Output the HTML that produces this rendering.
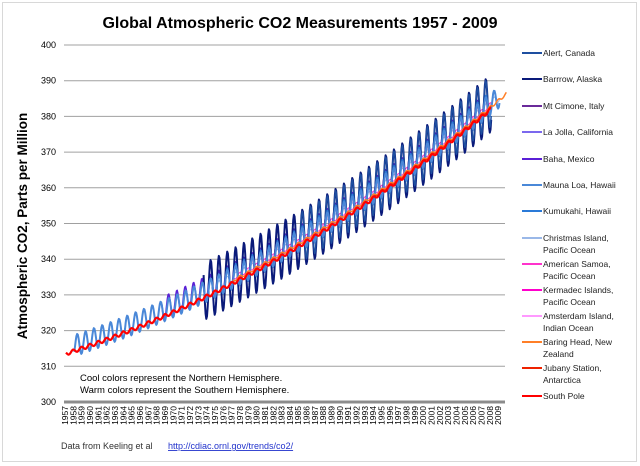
<!DOCTYPE html>
<html><head><meta charset="utf-8"><style>
body{margin:0;background:#fff;font-family:"Liberation Sans",sans-serif}
#c{position:absolute;left:2px;top:2px;width:633px;height:458px;border:1px solid #d8d8d8}
</style></head><body>
<div id="c"></div>
<svg id="s" width="640" height="466" style="position:absolute;left:0;top:0" font-family="Liberation Sans, sans-serif">
<text x="300" y="28" font-size="16" font-weight="bold" text-anchor="middle">Global Atmospheric CO2 Measurements  1957 - 2009</text>
<text transform="translate(27,226) rotate(-90)" font-size="13.5" font-weight="bold" text-anchor="middle">Atmospheric CO2, Parts per Million</text>
<g id="grid"></g><g id="ser"></g><g id="leg"></g>
<text x="80" y="381" font-size="9.5">Cool colors represent  the Northern Hemisphere.</text>
<text x="80" y="393" font-size="9.5">Warm colors represent the Southern Hemisphere.</text>
<text x="61" y="449" font-size="9" fill="#333">Data from Keeling et al</text>
<text x="168" y="449" font-size="9" fill="#2233cc" text-decoration="underline">http://cdiac.ornl.gov/trends/co2/</text>
</svg>
<script>
const NS="http://www.w3.org/2000/svg";
function el(p,t,a,txt){const e=document.createElementNS(NS,t);for(const k in a)e.setAttribute(k,a[k]);if(txt)e.textContent=txt;p.appendChild(e);return e;}
const g=document.getElementById('grid'),S=document.getElementById('ser'),L=document.getElementById('leg');
const X0=64,X1=505,Y400=45,Y300=402;
const xs=t=>X0+(t-1957)/(2009.9-1957)*(X1-X0)+2, ys=v=>Y300-(v-300)*(Y300-Y400)/100;
for(let v=300;v<=400;v+=10){const y=ys(v);el(g,'line',{x1:X0,x2:X1,y1:y,y2:y,stroke:'#a0a0a0','stroke-width':1});el(g,'text',{x:X0-8,y:y+3,'font-size':9,'text-anchor':'end'},String(v));}
el(g,'line',{x1:X0,x2:X1,y1:Y300,y2:Y300,stroke:'#8c8c8c','stroke-width':3});
for(let yr=1957;yr<=2009;yr++){const x=X0+(yr-1957)*8.33+4;el(g,'text',{transform:`translate(${x},406) rotate(-90)`,'font-size':8.5,'text-anchor':'end'},String(yr));}
const tr=t=>{const d=t-1958;return 315.5+0.78*d+0.0115*d*d;};
function ser(col,w,a,b,amp,off,phase){let p=[];for(let t=a;t<=b;t+=1/12){p.push(xs(t).toFixed(1)+','+ys(tr(t)+off+amp*Math.cos(2*Math.PI*(t-0.35+phase))).toFixed(1));}el(S,'polyline',{points:p.join(' '),fill:'none',stroke:col,'stroke-width':w,'stroke-linejoin':'round'});}
ser('#9ab8e8',1,1975,2009,1.2,0.3,0);
ser('#ff99ff',1,1980,2008,0.6,-0.5,0.5);
ser('#ff33cc',1,1977,2008,0.6,0.2,0.5);
ser('#7b68ee',1.2,1968.5,2008,3,0.8,0);
ser('#5a1fd6',1.5,1968.5,2007,3.5,1.0,0.05);
ser('#6a2a9a',1,1979,2008,3.5,0.5,0.1);
ser('#0a1a7a',2,1973.5,2008,8,0.5,0);
ser('#1e4fa0',1.5,1985,2008,7,1,0);
ser('#2a7ad8',1,1976,2008,3.5,0.5,0);
ser('#4a88d8',2,1958,2009,3,0.3,0);
ser('#ff7f27',1.5,1977,2009.9,0.4,-0.5,0.5);
ser('#ee2200',1,1994,2008,0.4,-0.8,0.5);
ser('#ff0000',2.2,1957,2008,0.5,-1.2,0.5);
const items=[["Alert, Canada","#1e4fa0"],["Barrrow, Alaska","#0a1a7a"],["Mt Cimone, Italy","#6a2a9a"],["La Jolla, California","#7b68ee"],["Baha, Mexico","#5a1fd6"],["Mauna Loa, Hawaii","#4a88d8"],["Kumukahi, Hawaii","#2a7ad8"],["Christmas Island,|Pacific Ocean","#9ab8e8"],["American Samoa,|Pacific Ocean","#ff33cc"],["Kermadec Islands,|Pacific Ocean","#ff00cc"],["Amsterdam Island,|Indian Ocean","#ff99ff"],["Baring Head, New|Zealand","#ff7f27"],["Jubany Station,|Antarctica","#ee2200"],["South Pole","#ff0000"]];
const ly=[53,79,106,132,159,185,211,238,264,290,316,342,368,396];
items.forEach((it,i)=>{const y=ly[i];el(L,'line',{x1:522,x2:542,y1:y,y2:y,stroke:it[1],'stroke-width':2});const ps=it[0].split('|');ps.forEach((s,j)=>el(L,'text',{x:543,y:y+3+j*12,'font-size':8.5,fill:'#222'},s));});
</script>
</body></html>
